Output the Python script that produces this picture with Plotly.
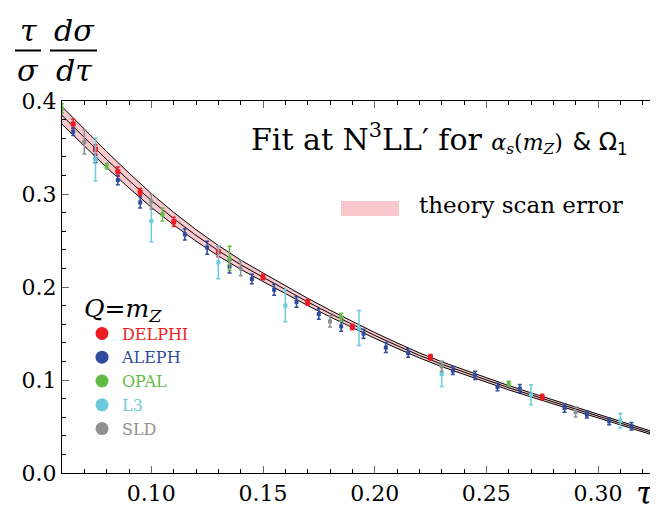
import plotly.graph_objects as go

# --- theory curve ---
curve_tau = [0.060, 0.070, 0.080, 0.090, 0.100, 0.110, 0.120, 0.130, 0.140, 0.150,
             0.160, 0.170, 0.180, 0.190, 0.200, 0.210, 0.220, 0.230, 0.240, 0.250,
             0.260, 0.270, 0.280, 0.290, 0.300, 0.310, 0.320, 0.330]
curve_mid = [0.3845, 0.3605, 0.337, 0.3145, 0.293, 0.2735, 0.2555, 0.239, 0.224, 0.2105,
             0.197, 0.184, 0.1715, 0.1595, 0.148, 0.137, 0.1265, 0.117, 0.1083, 0.0998,
             0.0917, 0.0840, 0.0765, 0.0690, 0.0615, 0.0540, 0.0465, 0.0385]
band_err = [0.0095, 0.0091, 0.0086, 0.0080, 0.0074, 0.0068, 0.0062, 0.0056, 0.0050, 0.0046,
            0.0042, 0.0039, 0.0036, 0.0033, 0.0031, 0.0029, 0.0027, 0.0026, 0.0025, 0.0024,
            0.0023, 0.0022, 0.0021, 0.0020, 0.0019, 0.0019, 0.0018, 0.0018]

# --- data, Q = mZ ---
delphi_tau = [0.065, 0.075, 0.085, 0.095, 0.110, 0.130, 0.150, 0.170, 0.190, 0.225, 0.275, 0.325]
delphi_val = [0.3753, 0.348, 0.324, 0.302, 0.270, 0.238, 0.2108, 0.1835, 0.157, 0.1244, 0.0817, 0.0412]
delphi_err = [0.005, 0.005, 0.005, 0.004, 0.005, 0.0056, 0.003, 0.003, 0.003, 0.003, 0.003, 0.002]

aleph_tau = [0.065, 0.075, 0.085, 0.095, 0.115, 0.125, 0.135, 0.145, 0.155, 0.165, 0.175, 0.185,
             0.195, 0.205, 0.215, 0.235, 0.245, 0.255, 0.265, 0.285, 0.295, 0.305, 0.315]
aleph_val = [0.367, 0.3376, 0.315, 0.291, 0.2566, 0.2423, 0.222, 0.2086, 0.197, 0.1839, 0.171, 0.1577,
             0.1498, 0.135, 0.129, 0.110, 0.105, 0.0925, 0.0907, 0.0699, 0.0627, 0.0556, 0.0502]
aleph_err = [0.004, 0.004, 0.005, 0.006, 0.006, 0.007, 0.007, 0.005, 0.006, 0.0057, 0.0056, 0.0054,
             0.0048, 0.0054, 0.0045, 0.004, 0.0045, 0.004, 0.0045, 0.0045, 0.0036, 0.0036, 0.004]

opal_tau = [0.060, 0.080, 0.105, 0.135, 0.185, 0.260]
opal_val = [0.392, 0.330, 0.278, 0.2308, 0.1674, 0.096]
opal_err = [0.005, 0.003, 0.007, 0.013, 0.0043, 0.0027]

l3_tau = [0.075, 0.100, 0.130, 0.160, 0.193, 0.230, 0.270, 0.310]
l3_val = [0.337, 0.271, 0.2265, 0.180, 0.156, 0.1065, 0.0842, 0.0563]
l3_err = [0.023, 0.0224, 0.0176, 0.0174, 0.0188, 0.0134, 0.0108, 0.008]

sld_tau = [0.070, 0.100, 0.140, 0.180, 0.230, 0.290]
sld_val = [0.356, 0.2917, 0.220, 0.163, 0.1147, 0.0656]
sld_err = [0.013, 0.008, 0.008, 0.006, 0.0054, 0.0054]

SERIF = 'DejaVu Serif'
PINK = '#f8c8cc'

experiments = [
    ('DELPHI', delphi_tau, delphi_val, delphi_err, '#ec1c24', 5),
    ('ALEPH', aleph_tau, aleph_val, aleph_err, '#2f4b9e', 4),
    ('OPAL', opal_tau, opal_val, opal_err, '#62bb45', 4),
    ('L3', l3_tau, l3_val, l3_err, '#6acbdd', 4),
    ('SLD', sld_tau, sld_val, sld_err, '#909093', 4),
]

fig = go.Figure()

# theory scan band
upper = [m + e for m, e in zip(curve_mid, band_err)]
lower = [m - e for m, e in zip(curve_mid, band_err)]
fig.add_trace(go.Scatter(x=curve_tau, y=lower, mode='lines', line=dict(width=0),
                         showlegend=False, hoverinfo='skip'))
fig.add_trace(go.Scatter(x=curve_tau, y=upper, mode='lines', line=dict(width=0),
                         fill='tonexty', fillcolor=PINK, showlegend=False, hoverinfo='skip'))
for ys in (lower, curve_mid, upper):
    fig.add_trace(go.Scatter(x=curve_tau, y=ys, mode='lines',
                             line=dict(color='black', width=1),
                             showlegend=False, hoverinfo='skip'))

# data points
for name, tau, val, err, color, size in experiments:
    fig.add_trace(go.Scatter(
        x=tau, y=val, mode='markers', showlegend=False,
        marker=dict(symbol='square', size=size, color=color),
        error_y=dict(type='data', array=err, color=color, thickness=1.5, width=2),
        name=name,
    ))

# legend entries (round dots, coloured names)
for name, tau, val, err, color, size in experiments:
    fig.add_trace(go.Scatter(
        x=[None], y=[None], mode='markers',
        marker=dict(symbol='circle', size=13, color=color),
        name=f'<span style="color:{color}">{name}</span>',
    ))


def px_x(px):
    return (px - 54) / 603


def px_y(py):
    return (465 - py) / 372


annotations = [
    dict(text='Fit at N<sup>3</sup>LL′ for <span style="font-size:22px"><i>α<sub>s</sub></i>(<i>m<sub>Z</sub></i>)</span>'
              ' <span style="font-family:DejaVu Sans;font-size:24px">&amp; Ω<sub>1</sub></span>',
         x=px_x(621), y=px_y(130), xanchor='right', yanchor='middle',
         font=dict(size=30, family=SERIF)),
    dict(text='theory scan error', x=px_x(410), y=px_y(197), xanchor='left', yanchor='middle',
         font=dict(size=23, family=SERIF)),
    dict(text='<i>τ</i>', x=px_x(20), y=px_y(41), xanchor='center', yanchor='bottom',
         font=dict(size=30, family=SERIF)),
    dict(text='<i>σ</i>', x=px_x(20), y=px_y(44), xanchor='center', yanchor='top',
         font=dict(size=30, family=SERIF)),
    dict(text='<i>dσ</i>', x=px_x(66), y=px_y(41), xanchor='center', yanchor='bottom',
         font=dict(size=30, family=SERIF)),
    dict(text='<i>dτ</i>', x=px_x(66), y=px_y(44), xanchor='center', yanchor='top',
         font=dict(size=30, family=SERIF)),
    dict(text='<i>τ</i>', x=px_x(637), y=px_y(485), xanchor='center', yanchor='middle',
         font=dict(size=32, family=SERIF)),
]
for a in annotations:
    a.update(xref='paper', yref='paper', showarrow=False, borderpad=0)

shapes = [
    dict(type='rect', x0=px_x(333), x1=px_x(391), y0=px_y(208), y1=px_y(193),
         fillcolor=PINK, line=dict(width=0)),
    dict(type='line', x0=px_x(7), x1=px_x(33), y0=px_y(42.5), y1=px_y(42.5),
         line=dict(color='black', width=2)),
    dict(type='line', x0=px_x(42), x1=px_x(89), y0=px_y(42.5), y1=px_y(42.5),
         line=dict(color='black', width=2)),
]
for s in shapes:
    s.update(xref='paper', yref='paper')

axis_common = dict(
    showgrid=False, zeroline=False, showline=True, linecolor='black', linewidth=1.3,
    mirror='ticks', ticks='inside', ticklen=7, tickwidth=1.3, tickcolor='#666',
    tickfont=dict(family=SERIF, size=22, color='black'),
)

fig.update_layout(
    width=658, height=508,
    margin=dict(l=54, r=1, t=93, b=43),
    plot_bgcolor='white', paper_bgcolor='white',
    font=dict(family=SERIF, color='black'),
    xaxis=dict(range=[0.06, 0.33], tick0=0, dtick=0.05, tickformat='.2f',
               minor=dict(dtick=0.01, ticks='inside', ticklen=4, tickcolor='black', tickwidth=1),
               **axis_common),
    yaxis=dict(range=[0, 0.4], tick0=0, dtick=0.1, tickformat='.1f',
               minor=dict(dtick=0.02, ticks='inside', ticklen=4, tickcolor='black', tickwidth=1),
               **axis_common),
    legend=dict(
        x=px_x(74), y=px_y(276), xanchor='left', yanchor='top',
        traceorder='normal',
        bgcolor='rgba(0,0,0,0)', borderwidth=0,
        font=dict(family=SERIF, size=16),
        title=dict(text='<i>Q</i>=<i>m<sub>Z</sub></i>', font=dict(family=SERIF, size=25, color='black')),
    ),
    annotations=annotations,
    shapes=shapes,
)

fig.write_html("out.html")
